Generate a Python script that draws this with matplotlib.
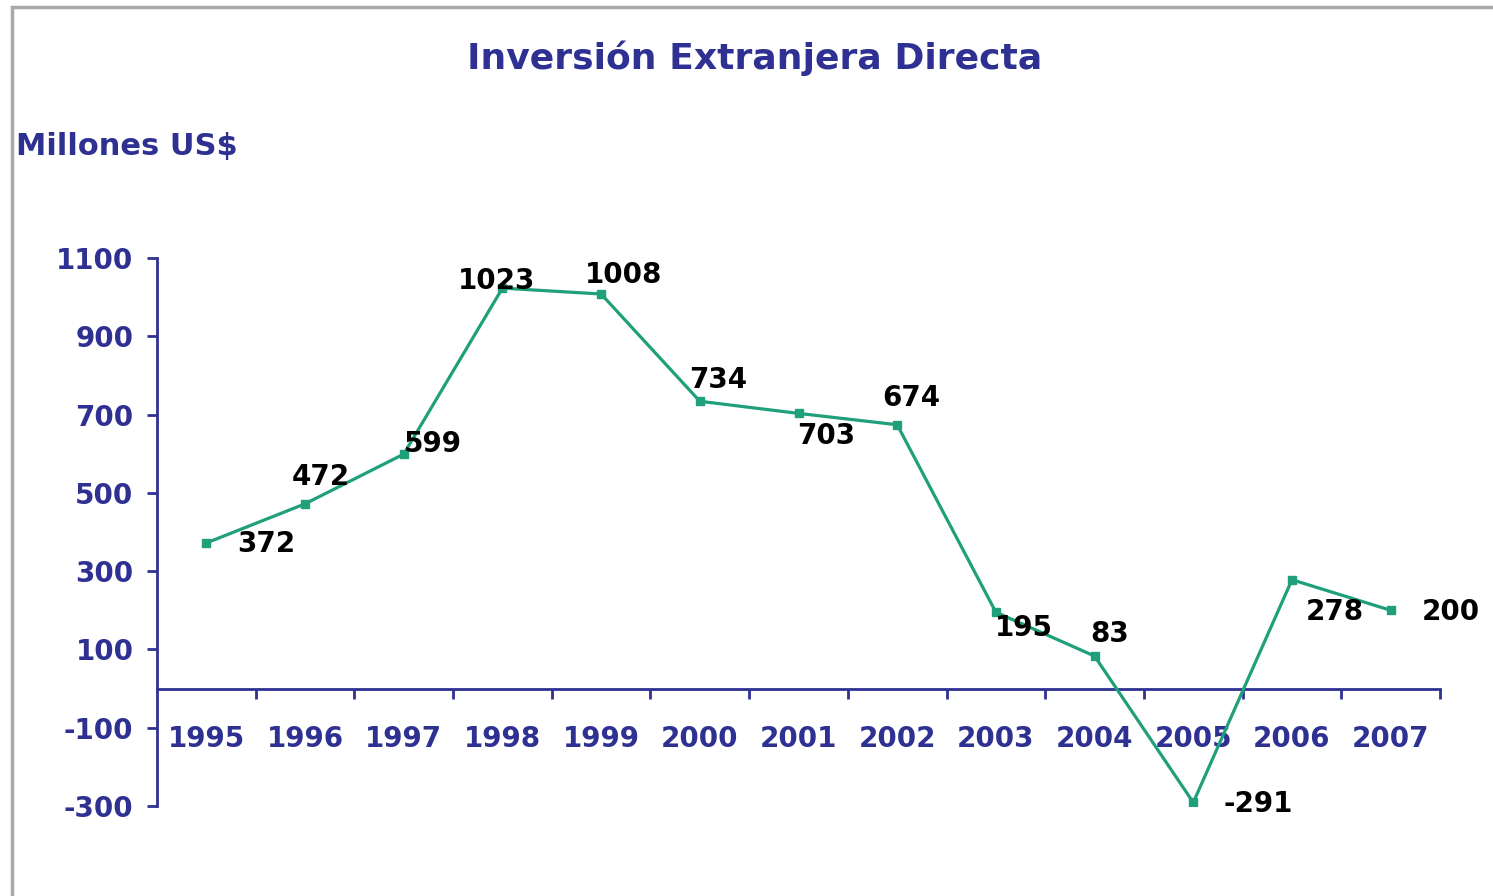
import matplotlib
matplotlib.use("Agg")
import matplotlib.pyplot as plt
from matplotlib.patches import Rectangle

years = ["1995", "1996", "1997", "1998", "1999", "2000", "2001",
         "2002", "2003", "2004", "2005", "2006", "2007"]
values = [372, 472, 599, 1023, 1008, 734, 703, 674, 195, 83, -291, 278, 200]
y_ticks = [-300, -100, 100, 300, 500, 700, 900, 1100]
# label offsets in points (dx, dy) relative to each point
label_offsets = [(43, -1), (11, 19), (21, 7), (-4, 5), (16, 14), (13, 15),
                 (20, -16), (10, 19), (20, -11), (11, 16), (47, -1), (31, -23), (43, -1)]

title = "Inversión Extranjera Directa"
ylabel = "Millones US$"

navy = "#2E3192"
green = "#1FA07A"
plt.rcParams['font.family'] = ['DejaVu Sans']

fig = plt.figure(figsize=(14.93, 8.96), dpi=100)
ax = fig.add_axes([157/1493, 1-806/896, (1440-157)/1493, (806-258)/896])

x = list(range(len(years)))
ax.plot(x, values, color=green, lw=2.3, marker='s', ms=6, mec=green, mfc=green, zorder=3)

for xi, v, (dx, dy) in zip(x, values, label_offsets):
    ax.annotate(str(v), (xi, v), xytext=(dx, dy), textcoords='offset points',
                ha='center', va='center', fontsize=20, fontweight='bold', color='black', zorder=4)

ax.set_xlim(-0.5, len(years) - 0.5)
ax.set_ylim(-300, 1100)

for s in ['top', 'right']:
    ax.spines[s].set_visible(False)
ax.spines['bottom'].set_position(('data', 0))
for s in ['left', 'bottom']:
    ax.spines[s].set_color(navy)
    ax.spines[s].set_linewidth(2)

ax.set_yticks(y_ticks)
ax.set_yticklabels([str(t) for t in y_ticks])
ax.tick_params(axis='y', direction='out', length=7, width=2, color=navy,
               labelcolor=navy, labelsize=20, pad=10)
for lbl in ax.get_yticklabels():
    lbl.set_fontweight('bold')

ax.set_xticks([i + 0.5 for i in range(len(years))])
ax.set_xticklabels([])
ax.set_xticks(x, minor=True)
ax.set_xticklabels(years, minor=True)
ax.tick_params(axis='x', which='major', direction='out', length=7, width=2, color=navy)
ax.tick_params(axis='x', which='minor', length=0, labelcolor=navy, labelsize=20, pad=26)
for lbl in ax.get_xticklabels(minor=True):
    lbl.set_fontweight('bold')

fig.text(755/1493, 1-58/896, title, ha='center', va='center', fontsize=26,
         fontweight='bold', color=navy)
fig.text(16/1493, 1-146/896, ylabel, ha='left', va='center', fontsize=22,
         fontweight='bold', color=navy)

fig.patches.append(Rectangle((12/1493, -0.1), 1.2, 1.1 - 7/896, transform=fig.transFigure,
                             fill=False, edgecolor='#A8A8A8', lw=2.5))

fig.savefig("out.png", dpi=100)
